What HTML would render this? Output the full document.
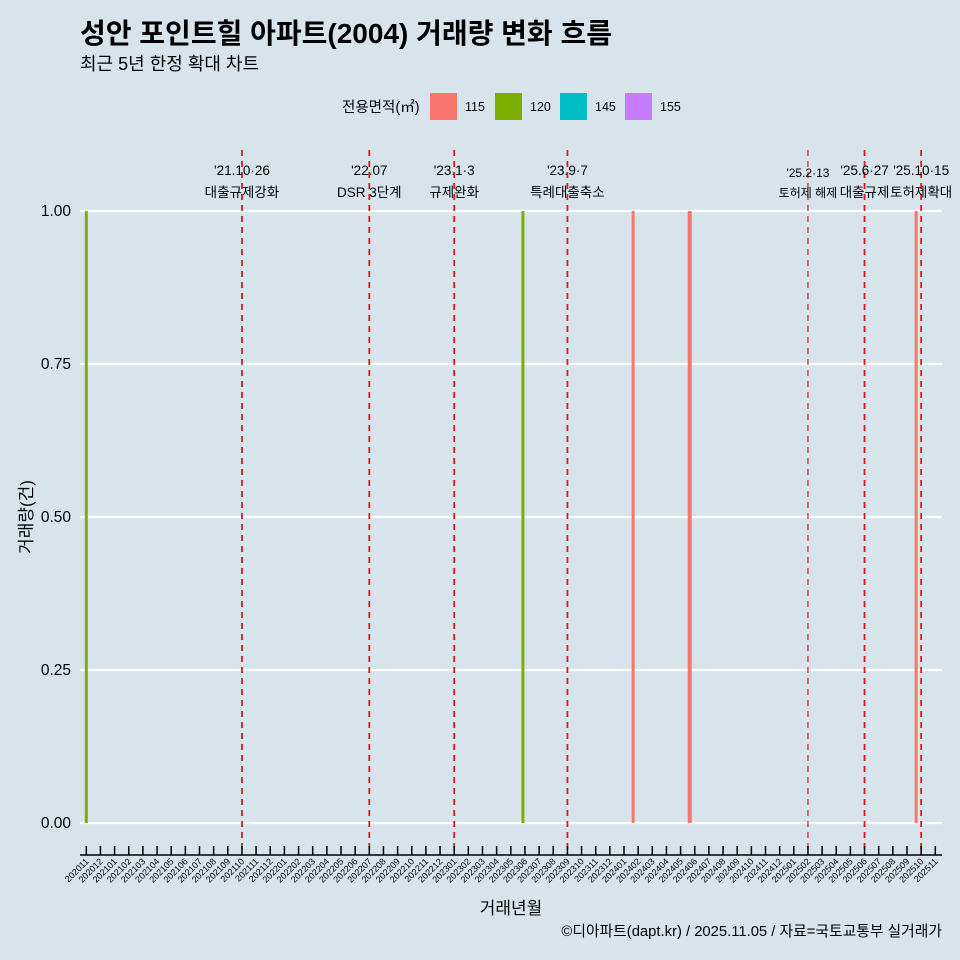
<!DOCTYPE html>
<html><head><meta charset="utf-8">
<style>
body{margin:0;background:#d7e4eb;}
svg{display:block;font-family:"Liberation Sans","Noto Sans CJK KR",sans-serif;}
</style></head><body>
<svg width="960" height="960" viewBox="0 0 960 960">
<rect width="960" height="960" fill="#d7e4eb"/>
<text x="80" y="43" font-size="28" font-weight="bold" fill="#000">성안 포인트힐 아파트(2004) 거래량 변화 흐름</text>
<text x="80" y="70" font-size="18" fill="#000">최근 5년 한정 확대 차트</text>
<g id="legend">
<text x="342" y="112" font-size="14.5">전용면적(㎡)</text>
</g>
<g id="grid"></g><g id="vlines"></g><g id="bars"></g><g id="xaxis"></g><g id="yaxis"></g>
<text x="32" y="517" font-size="17" transform="rotate(-90 32 517)" text-anchor="middle">거래량(건)</text>
<text x="511" y="914" font-size="17" text-anchor="middle">거래년월</text>
<text x="942" y="936" font-size="14.8" text-anchor="end">©디아파트(dapt.kr) / 2025.11.05 / 자료=국토교통부 실거래가</text>
</svg>
<script>
const categories=[];for(let y=2020,m=11;!(y===2025&&m===12);){categories.push(''+y+(m<10?'0':'')+m);m++;if(m>12){m=1;y++;}}
const sizes=['115','120','145','155'];
const colors=['#f8766d','#7cae00','#00bfc4','#c77cff'];
const barMonths=['202011','202306','202402','202406','202510'];
const barSizes=['120','120','115','115','115'];
const barValues=[1,1,1,1,1];
const yTicks=[0,0.25,0.5,0.75,1];
const yTickLabels=['0.00','0.25','0.50','0.75','1.00'];
const eventMonths=['202110','202207','202301','202309','202502','202506','202510'];
const eventDates=["'21.10·26","'22.07","'23.1·3","'23.9·7","'25.2·13","'25.6·27","'25.10·15"];
const eventLabels=['대출규제강화','DSR 3단계','규제완화','특례대출축소','토허제 해제','대출규제','토허제확대'];
const NS='http://www.w3.org/2000/svg';
function mk(t,a,p,txt){const e=document.createElementNS(NS,t);for(const k in a)e.setAttribute(k,a[k]);if(txt!==undefined)e.textContent=txt;p.appendChild(e);return e;}
const x=c=>86.3+categories.indexOf(c)*14.15;
const y=v=>823-v*612;
const grid=document.getElementById('grid');
yTicks.forEach((v,i)=>{const l=mk('line',{x1:80,x2:942,y1:y(v),y2:y(v),stroke:'#fff','stroke-width':2.2},grid);


const t=mk('text',{x:71,y:y(v)+5,'font-size':15.5,'text-anchor':'end'},document.getElementById('yaxis'),yTickLabels[i]);

});
const vl=document.getElementById('vlines');
eventMonths.forEach((c,i)=>{const l=mk('line',{x1:x(c),x2:x(c),y1:150,y2:855,stroke:'#e8141c','stroke-width':i===4?1.2:1.8,'stroke-dasharray':'6,5'},vl);


const fs=i===4?12:13.5;
const d=mk('text',{x:x(c),y:i===4?177:175,'font-size':fs,'text-anchor':'middle'},vl,eventDates[i]);


const t=mk('text',{x:x(c),y:197,'font-size':fs,'text-anchor':'middle'},vl,eventLabels[i]);

});
const bg=document.getElementById('bars');
const dodge=[0,-2,-5,-5,-5];
barMonths.forEach((c,i)=>{const w=i===3?4:3;
const r=mk('rect',{x:x(c)-w/2+dodge[i],y:y(barValues[i]),width:w,height:y(0)-y(barValues[i]),fill:colors[sizes.indexOf(barSizes[i])]},bg);

});
const xa=document.getElementById('xaxis');
const al=mk('line',{x1:80,x2:942,y1:855,y2:855,stroke:'#000','stroke-width':1.5},xa);


categories.forEach(c=>{const tk=mk('line',{x1:x(c),x2:x(c),y1:846,y2:855,stroke:'#000','stroke-width':1.5},xa);


const t=mk('text',{x:x(c)+3,y:862,'font-size':9,'text-anchor':'end',transform:`rotate(-45 ${x(c)+3} 862)`},xa,c);

});
const lg=document.getElementById('legend');
sizes.forEach((s,i)=>{const lx=430+i*65;
const r=mk('rect',{x:lx,y:93,width:27,height:27,fill:colors[i]},lg);


const t=mk('text',{x:lx+35,y:111,'font-size':12.5},lg,s);

});
</script>
</body></html>
